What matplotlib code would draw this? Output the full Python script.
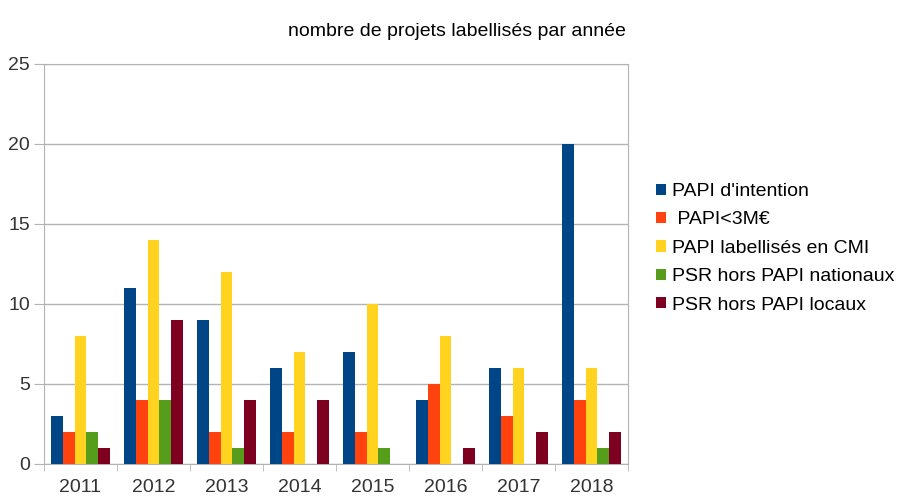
import numpy as np
import matplotlib.pyplot as plt

plt.rcParams['font.family'] = ['Liberation Sans', 'DejaVu Sans']

annees = ['2011', '2012', '2013', '2014', '2015', '2016', '2017', '2018']
papi_intention = [3, 11, 9, 6, 7, 4, 6, 20]
papi_3m = [2, 4, 2, 2, 2, 5, 3, 4]
papi_cmi = [8, 14, 12, 7, 10, 8, 6, 6]
psr_nationaux = [2, 4, 1, 0, 1, 0, 0, 1]
psr_locaux = [1, 9, 4, 4, 0, 1, 2, 2]

series = [
    ("PAPI d'intention", papi_intention, '#004586'),
    (' PAPI<3M€', papi_3m, '#ff420e'),
    ('PAPI labellisés en CMI', papi_cmi, '#ffd320'),
    ('PSR hors PAPI nationaux', psr_nationaux, '#579d1c'),
    ('PSR hors PAPI locaux', psr_locaux, '#7e0021'),
]

fig = plt.figure(figsize=(9.09, 5.0), dpi=100)
ax = fig.add_axes([0.0484, 0.072, 0.6425, 0.8])

x = np.arange(len(annees))
w = 0.163
for i, (nom, vals, col) in enumerate(series):
    ax.bar(x + (i - 2) * w, vals, w, color=col, label=nom, zorder=3)

ax.set_xlim(-0.5, len(annees) - 0.5)
ax.set_ylim(0, 25)
ax.set_yticks(range(0, 26, 5))
ax.set_xticks(x)
ax.set_xticklabels(annees, fontsize=14, color='#333333')
ax.set_xticks(np.arange(-0.5, len(annees), 1), minor=True)
ax.tick_params(axis='x', which='major', length=0, pad=11)
ax.tick_params(axis='x', which='minor', length=5, color='#b3b3b3')
ax.tick_params(axis='y', length=7, color='#b3b3b3', labelsize=14, labelcolor='#333333', pad=3)
ax.yaxis.grid(True, color='#b3b3b3', linewidth=1, zorder=0)
for s in ax.spines.values():
    s.set_color('#b3b3b3')

ax.set_title('nombre de projets labellisés par année', fontsize=14, pad=20, x=0.707)

ax.legend(loc='center left', bbox_to_anchor=(1.035, 0.539), frameon=False,
          fontsize=14, handlelength=0.5, handleheight=0.5, handletextpad=0.3,
          labelspacing=0.59, borderaxespad=0)

fig.savefig('out.png', dpi=100)
